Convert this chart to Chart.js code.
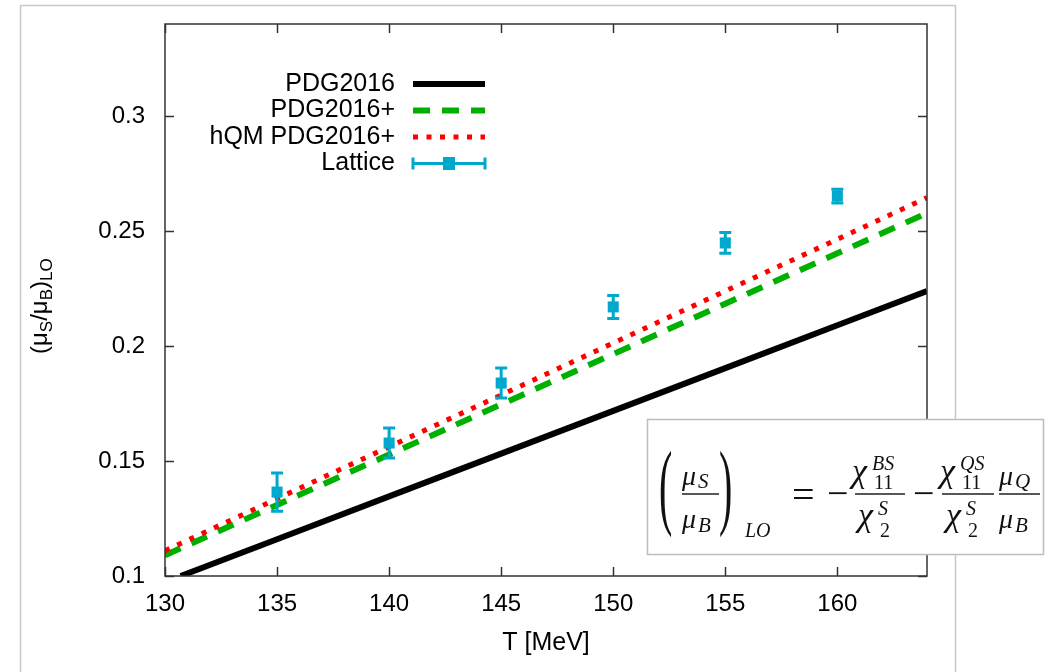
<!DOCTYPE html>
<html>
<head>
<meta charset="utf-8">
<script src="https://cdn.jsdelivr.net/npm/chart.js@4.4.1/dist/chart.umd.min.js"></script>
<style>
  html, body { margin: 0; padding: 0; background: #fff; }
  #grafica { display: block; }
</style>
</head>
<body>
<canvas id="grafica" width="1046" height="672"></canvas>
<script>
// curvas HRG: temperatura (MeV) y cociente muS/muB a primer orden
const tLinea = [130, 135, 140, 145, 150, 155, 160, 164];
const tPdg = [130.7, 135, 140, 145, 150, 155, 160, 164];
const pdg2016 = [0.1, 0.116, 0.1346, 0.1532, 0.1718, 0.1904, 0.209, 0.2239];
const pdg2016plus = [0.109, 0.1309, 0.1528, 0.1746, 0.1965, 0.2184, 0.2403, 0.2578];
const hqmPdg2016plus = [0.111, 0.1336, 0.1562, 0.1787, 0.2013, 0.2239, 0.2464, 0.2645];

// datos de lattice con su error
const tLattice = [135, 140, 145, 150, 155, 160];
const lattice = [0.1365, 0.1578, 0.1839, 0.217, 0.2448, 0.2652];
const latticeErr = [0.0083, 0.0065, 0.0065, 0.005, 0.0045, 0.003];

const xTicks = [130, 135, 140, 145, 150, 155, 160];
const yTicks = [0.1, 0.15, 0.2, 0.25, 0.3];

const CIAN = "#00a8cc";
const SANS = '"Liberation Sans", Arial, sans-serif';
const SERIF = '"Liberation Serif", "DejaVu Serif", serif';

const puntos = (xs, ys) => xs.map((x, i) => ({ x: x, y: ys[i] }));

function escribir(ctx, s, x, y, size, italic) {
  ctx.font = (italic ? "italic " : "") + size + "px " + SERIF;
  ctx.fillText(s, x, y);
}

// parentesis grande estirado en vertical
function parentesis(ctx, s, x, yc, alto) {
  ctx.save();
  ctx.font = "40px " + SERIF;
  ctx.translate(x, yc);
  ctx.scale(1, alto / 36);
  ctx.fillText(s, 0, 9.6);
  ctx.restore();
}

function barra(ctx, x1, x2, y) {
  ctx.fillRect(x1, y - 0.7, x2 - x1, 1.4);
}

// chi con super y subindice
function chi(ctx, x, y, sup, sub, supY, subY) {
  escribir(ctx, "\u03c7", x, y, 34, true);
  escribir(ctx, sup, x + 20, supY, 20, true);
  escribir(ctx, sub, x + 22, subY, 20, false);
}

function formula(ctx) {
  ctx.save();
  ctx.fillStyle = "#fff";
  ctx.strokeStyle = "#bdbdbd";
  ctx.lineWidth = 1.5;
  ctx.fillRect(647, 419, 397, 136);
  ctx.strokeRect(647.5, 419.5, 396, 135);

  ctx.fillStyle = "#111";
  ctx.textAlign = "left";
  ctx.textBaseline = "alphabetic";

  // (muS/muB)_LO
  parentesis(ctx, "(", 659, 494, 86);
  escribir(ctx, "\u03bc", 682, 485, 28, true);
  escribir(ctx, "S", 698, 488, 21, true);
  barra(ctx, 682, 719, 494);
  escribir(ctx, "\u03bc", 682, 528, 28, true);
  escribir(ctx, "B", 698, 532, 21, true);
  parentesis(ctx, ")", 719, 494, 86);
  escribir(ctx, "LO", 745, 537, 20, true);

  escribir(ctx, "=", 792, 508, 40, false);
  escribir(ctx, "\u2212", 827, 506, 38, false);

  // chi11^BS / chi2^S
  chi(ctx, 852, 482, "BS", "11", 470, 489);
  barra(ctx, 855, 905, 494);
  chi(ctx, 858, 526, "S", "2", 515, 537);

  escribir(ctx, "\u2212", 913, 506, 38, false);

  // chi11^QS / chi2^S
  chi(ctx, 940, 482, "QS", "11", 470, 489);
  barra(ctx, 942, 994, 494);
  chi(ctx, 946, 526, "S", "2", 515, 537);

  // muQ / muB
  escribir(ctx, "\u03bc", 999, 485, 28, true);
  escribir(ctx, "Q", 1015, 488, 21, true);
  barra(ctx, 999, 1040, 494);
  escribir(ctx, "\u03bc", 999, 528, 28, true);
  escribir(ctx, "B", 1015, 532, 21, true);
  ctx.restore();
}

// titulo del eje y con subindices, girado
function tituloY(ctx) {
  ctx.save();
  ctx.translate(47, 354);
  ctx.rotate(-Math.PI / 2);
  ctx.fillStyle = "#000";
  ctx.textBaseline = "alphabetic";
  const trozos = [
    ["(\u03bc", 24, 0], ["S", 17, 5], ["/\u03bc", 24, 0], ["B", 17, 5], [")", 24, 0], ["LO", 17, 5]
  ];
  let x = 0;
  trozos.forEach(([s, size, dy]) => {
    ctx.font = size + "px " + SANS;
    ctx.fillText(s, x, dy);
    x += ctx.measureText(s).width;
  });
  ctx.restore();
}

const extras = {
  id: "extras",
  beforeDraw(chart) {
    const ctx = chart.ctx;
    ctx.save();
    ctx.strokeStyle = "#c8c8c8";
    ctx.lineWidth = 1.5;
    ctx.strokeRect(20.5, 5.5, 935, 700);
    ctx.restore();
  },
  afterDatasetsDraw(chart) {
    // barras de error
    const ctx = chart.ctx;
    const xs = chart.scales.x, ys = chart.scales.y;
    ctx.save();
    ctx.strokeStyle = CIAN;
    ctx.lineWidth = 3;
    tLattice.forEach((t, i) => {
      const px = xs.getPixelForValue(t);
      const top = ys.getPixelForValue(lattice[i] + latticeErr[i]);
      const bot = ys.getPixelForValue(lattice[i] - latticeErr[i]);
      ctx.beginPath();
      ctx.moveTo(px, top); ctx.lineTo(px, bot);
      ctx.moveTo(px - 6, top); ctx.lineTo(px + 6, top);
      ctx.moveTo(px - 6, bot); ctx.lineTo(px + 6, bot);
      ctx.stroke();
    });
    ctx.restore();
  },
  afterDraw(chart) {
    const ctx = chart.ctx;
    const a = chart.chartArea;
    const xs = chart.scales.x, ys = chart.scales.y;

    // marco y marcas hacia dentro en los cuatro lados
    ctx.save();
    ctx.strokeStyle = "#333";
    ctx.lineWidth = 1.5;
    ctx.strokeRect(a.left, a.top, a.right - a.left, a.bottom - a.top);
    ctx.beginPath();
    xTicks.forEach(v => {
      const px = Math.round(xs.getPixelForValue(v)) + 0.5;
      ctx.moveTo(px, a.bottom); ctx.lineTo(px, a.bottom - 9);
      ctx.moveTo(px, a.top); ctx.lineTo(px, a.top + 9);
    });
    yTicks.forEach(v => {
      const py = Math.round(ys.getPixelForValue(v)) + 0.5;
      ctx.moveTo(a.left, py); ctx.lineTo(a.left + 9, py);
      ctx.moveTo(a.right, py); ctx.lineTo(a.right - 9, py);
    });
    ctx.stroke();
    ctx.restore();

    // leyenda: texto a la izquierda, muestra a la derecha
    ctx.save();
    ctx.font = "25px " + SANS;
    ctx.textAlign = "right";
    ctx.textBaseline = "middle";
    ctx.fillStyle = "#000";
    const x0 = 413, x1 = 485;
    chart.data.datasets.forEach((ds, i) => {
      const y = 84 + i * 26.5;
      ctx.fillText(ds.label, 395, y);
      ctx.save();
      if (ds.showLine) {
        ctx.strokeStyle = ds.borderColor;
        ctx.lineWidth = ds.borderWidth;
        ctx.setLineDash(ds.borderDash || []);
        ctx.beginPath();
        ctx.moveTo(x0, y); ctx.lineTo(x1, y);
        ctx.stroke();
      } else {
        ctx.strokeStyle = ds.backgroundColor;
        ctx.fillStyle = ds.backgroundColor;
        ctx.lineWidth = 3;
        ctx.beginPath();
        ctx.moveTo(x0, y); ctx.lineTo(x1, y);
        ctx.moveTo(x0, y - 6); ctx.lineTo(x0, y + 6);
        ctx.moveTo(x1, y - 6); ctx.lineTo(x1, y + 6);
        ctx.stroke();
        ctx.fillRect((x0 + x1) / 2 - 6, y - 6.5, 12, 13);
      }
      ctx.restore();
    });
    ctx.restore();

    tituloY(ctx);
    formula(ctx);
  }
};

const ctx = document.getElementById("grafica").getContext("2d");
new Chart(ctx, {
  type: "scatter",
  data: {
    datasets: [
      {
        label: "PDG2016",
        data: puntos(tPdg, pdg2016),
        showLine: true,
        borderColor: "#000",
        borderWidth: 6,
        pointRadius: 0,
        order: 3
      },
      {
        label: "PDG2016+",
        data: puntos(tLinea, pdg2016plus),
        showLine: true,
        borderColor: "#00b000",
        borderWidth: 6,
        borderDash: [17, 12],
        borderCapStyle: "butt",
        pointRadius: 0,
        order: 2
      },
      {
        label: "hQM PDG2016+",
        data: puntos(tLinea, hqmPdg2016plus),
        showLine: true,
        borderColor: "#ff0000",
        borderWidth: 5,
        borderDash: [5, 8.5],
        borderCapStyle: "butt",
        pointRadius: 0,
        order: 1
      },
      {
        label: "Lattice",
        data: puntos(tLattice, lattice),
        showLine: false,
        backgroundColor: CIAN,
        borderColor: CIAN,
        borderWidth: 0,
        pointStyle: "rect",
        pointRadius: 7.8,
        order: 0
      }
    ]
  },
  options: {
    responsive: false,
    animation: false,
    devicePixelRatio: 1,
    layout: { padding: { top: 24, right: 119, left: 0, bottom: 0 } },
    plugins: {
      legend: { display: false },
      tooltip: { enabled: false }
    },
    scales: {
      x: {
        type: "linear",
        min: 130,
        max: 164,
        afterBuildTicks: s => { s.ticks = xTicks.map(v => ({ value: v })); },
        afterFit: s => { s.height = 96; s.paddingLeft = 0; s.paddingRight = 0; },
        grid: { display: false, drawTicks: false },
        border: { display: false },
        ticks: {
          color: "#000",
          padding: 14,
          font: { family: SANS, size: 24 },
          callback: v => String(v)
        },
        title: {
          display: true,
          text: "T [MeV]",
          color: "#000",
          font: { family: SANS, size: 25 },
          padding: { top: 0, bottom: 14 }
        }
      },
      y: {
        type: "linear",
        min: 0.1,
        max: 0.34,
        afterBuildTicks: s => { s.ticks = yTicks.map(v => ({ value: v })); },
        afterFit: s => { s.width = 165; s.paddingTop = 0; s.paddingBottom = 0; },
        grid: { display: false, drawTicks: false },
        border: { display: false },
        ticks: {
          color: "#000",
          padding: 20,
          font: { family: SANS, size: 24 },
          callback: v => String(Math.round(v * 100) / 100)
        }
      }
    }
  },
  plugins: [extras]
});
</script>
</body>
</html>
